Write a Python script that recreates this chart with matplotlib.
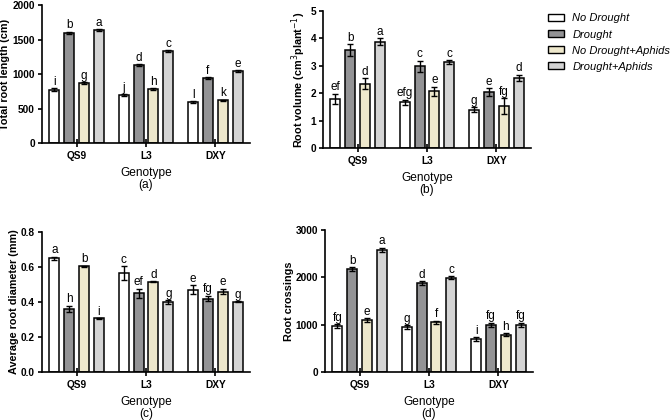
import numpy as np
import matplotlib
matplotlib.use('Agg')
import matplotlib.pyplot as plt
from matplotlib.patches import Patch

plt.rcParams['font.family'] = ['Liberation Sans', 'DejaVu Sans']

genotypes = ['QS9', 'L3', 'DXY']
treatments = ['No Drought', 'Drought', 'No Drought+Aphids', 'Drought+Aphids']
colors = ['#FFFFFF', '#939395', '#EEE8CC', '#D4D4D4']

# (a) total root length, rows = treatments, cols = genotypes
length_mean = [[775, 695, 595], [1595, 1130, 940], [870, 780, 620], [1640, 1330, 1040]]
length_err = [[15, 12, 10], [15, 15, 12], [12, 12, 10], [12, 12, 12]]
length_lbl = [['i', 'j', 'l'], ['b', 'd', 'f'], ['g', 'h', 'k'], ['a', 'c', 'e']]

# (b) root volume
volume_mean = [[1.8, 1.67, 1.4], [3.57, 2.98, 2.03], [2.35, 2.07, 1.53], [3.88, 3.13, 2.55]]
volume_err = [[0.18, 0.1, 0.08], [0.22, 0.2, 0.15], [0.2, 0.17, 0.28], [0.13, 0.08, 0.12]]
volume_lbl = [['ef', 'efg', 'g'], ['b', 'c', 'e'], ['d', 'e', 'fg'], ['a', 'c', 'd']]

# (c) average root diameter
diam_mean = [[0.65, 0.565, 0.47], [0.36, 0.45, 0.42], [0.605, 0.515, 0.46], [0.307, 0.40, 0.402]]
diam_err = [[0.01, 0.04, 0.025], [0.02, 0.025, 0.015], [0.003, 0.003, 0.015], [0.002, 0.01, 0.002]]
diam_lbl = [['a', 'c', 'e'], ['h', 'ef', 'fg'], ['b', 'd', 'e'], ['i', 'g', 'g']]

# (d) root crossings
cross_mean = [[975, 945, 700], [2175, 1880, 1000], [1100, 1050, 790], [2580, 1990, 1000]]
cross_err = [[40, 40, 40], [40, 40, 40], [40, 30, 30], [50, 30, 40]]
cross_lbl = [['fg', 'g', 'i'], ['b', 'd', 'fg'], ['e', 'f', 'h'], ['a', 'c', 'fg']]

panels = [
    ([0.0626, 0.6595, 0.31, 0.3286], length_mean, length_err, length_lbl,
     'Total root length (cm)', (0, 2000), [0, 500, 1000, 1500, 2000], '(a)', '%d'),
    ([0.4814, 0.6476, 0.31, 0.3262], volume_mean, volume_err, volume_lbl,
     'Root volume (cm$^{3}$plant$^{-1}$)', (0, 5), [0, 1, 2, 3, 4, 5], '(b)', '%d'),
    ([0.0626, 0.1143, 0.31, 0.3333], diam_mean, diam_err, diam_lbl,
     'Average root diameter (mm)', (0, 0.8), [0, 0.2, 0.4, 0.6, 0.8], '(c)', '%.1f'),
    ([0.4844, 0.1143, 0.31, 0.3381], cross_mean, cross_err, cross_lbl,
     'Root crossings', (0, 3000), [0, 1000, 2000, 3000], '(d)', '%d'),
]

fig = plt.figure(figsize=(6.71, 4.20), dpi=100)

x = np.arange(len(genotypes))
step = 0.214
width = 0.143

for rect, mean, err, lbl, ylab, ylim, yticks, tag, fmt in panels:
    ax = fig.add_axes(rect)
    for i in range(4):
        xs = x + (i - 1.5) * step
        ax.bar(xs, mean[i], width, color=colors[i], edgecolor='black', linewidth=1.1,
               yerr=err[i], error_kw=dict(ecolor='black', elinewidth=1.0, capsize=2.5, capthick=1.0),
               zorder=2)
        for xi, m, e, t in zip(xs, mean[i], err[i], lbl[i]):
            ax.annotate(t, (xi, m + e), xytext=(0, 0.3), textcoords='offset points',
                        ha='center', va='bottom', fontsize=8.5)
    ax.set_xlim(-0.5, 2.5)
    ax.set_ylim(*ylim)
    ax.set_yticks(yticks)
    ax.set_yticklabels([fmt % v for v in yticks], fontweight='bold', fontsize=7.3)
    ax.set_xticks(x)
    ax.set_xticklabels(genotypes, fontweight='bold', fontsize=7.3)
    ax.set_ylabel(ylab, fontweight='bold', fontsize=7.8, labelpad=1.5)
    ax.set_xlabel('Genotype\n' + tag, fontsize=8.6, labelpad=4, linespacing=1.05)
    for s in ['top', 'right']:
        ax.spines[s].set_visible(False)
    for s in ['left', 'bottom']:
        ax.spines[s].set_linewidth(1.2)
    ax.tick_params(axis='y', direction='out', length=3, width=1.2, pad=2)
    ax.tick_params(axis='x', direction='inout', length=6, width=1.2, pad=3)

handles = [Patch(facecolor=c, edgecolor='black', linewidth=1.0) for c in colors]
fig.legend(handles, treatments, loc='upper left', bbox_to_anchor=(0.8167, 0.968),
           frameon=False, borderpad=0, borderaxespad=0, prop={'style': 'italic', 'size': 8},
           handlelength=1.4, handleheight=0.6, labelspacing=0.55, handletextpad=0.8)

fig.savefig('out.png', dpi=100)
